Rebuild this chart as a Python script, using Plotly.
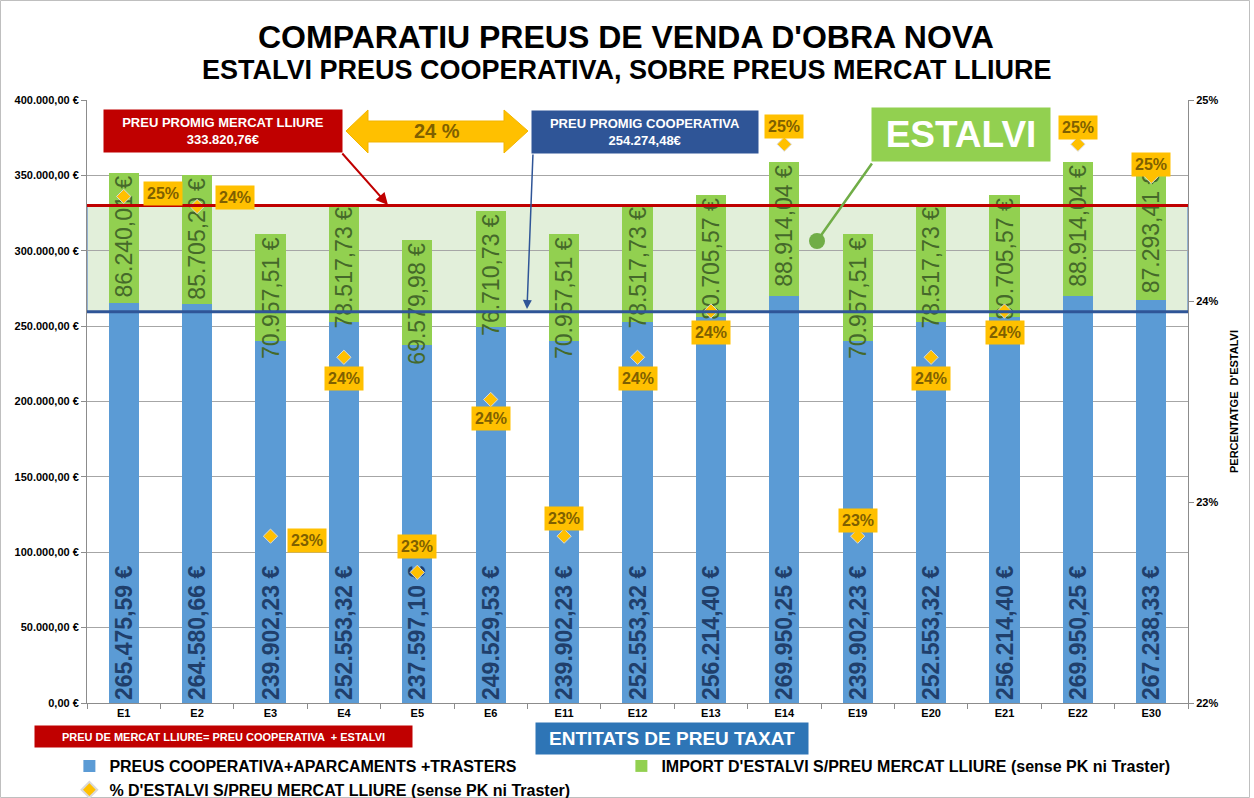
import plotly.graph_objects as go

# ---------------- data ----------------
categories = ["E1", "E2", "E3", "E4", "E5", "E6", "E11", "E12", "E13", "E14",
              "E19", "E20", "E21", "E22", "E30"]
coop_price = [265475.59, 264580.66, 239902.23, 252553.32, 237597.10, 249529.53,
              239902.23, 252553.32, 256214.40, 269950.25, 239902.23, 252553.32,
              256214.40, 269950.25, 267238.33]
saving_amount = [86240.01, 85705.20, 70957.51, 78517.73, 69579.98, 76710.73,
                 70957.51, 78517.73, 80705.57, 88914.04, 70957.51, 78517.73,
                 80705.57, 88914.04, 87293.41]
saving_pct = [24.52, 24.47, 22.83, 23.72, 22.65, 23.51, 22.83, 23.72, 23.95,
              24.78, 22.83, 23.72, 23.95, 24.78, 24.62]
pct_labels = ["25%", "24%", "23%", "24%", "23%", "24%", "23%", "24%", "24%",
              "25%", "23%", "24%", "24%", "25%", "25%"]
y_ticks = [0, 50000, 100000, 150000, 200000, 250000, 300000, 350000, 400000]
y_ticktext = ["0,00 €", "50.000,00 €", "100.000,00 €", "150.000,00 €", "200.000,00 €",
              "250.000,00 €", "300.000,00 €", "350.000,00 €", "400.000,00 €"]
y2_ticks = [22, 23, 24, 25]
y2_ticktext = ["22%", "23%", "24%", "25%"]
market_avg_text = "333.820,76€"
coop_avg_text = "254.274,48€"
avg_saving_text = "24 %"
band_top = 330000      # red line as drawn
band_bottom = 259500   # blue line as drawn

# label placement (style): pixel offsets of the % labels from their markers
pct_label_offset = [(39, 3), (38, 9), (36, -4), (0, -21), (0, 26), (0, -19), (0, 18),
                    (0, -21), (0, -21), (0, 18), (0, 16), (0, -21), (0, -21), (0, 17), (0, 12)]

# ---------------- layout helpers ----------------
W, H = 1254, 798
ML, MR, MT, MB = 87, 66, 100, 95
PW, PH = W - ML - MR, H - MT - MB


def px(x):
    return (x - ML) / PW


def py(y):
    return (H - MB - y) / PH


FONT = "Liberation Sans, Arial, sans-serif"

fig = go.Figure()
fig.add_trace(go.Bar(
    x=categories, y=coop_price, name="PREUS COOPERATIVA+APARCAMENTS +TRASTERS",
    marker=dict(color="#5B9BD5", line=dict(width=0)),
    texttemplate="%{y:,.2f} €", textposition="inside", insidetextanchor="start",
    textangle=-90, constraintext="none",
    textfont=dict(family=FONT, size=23, color="#203F6B", weight="bold"),
    width=0.41,
))
fig.add_trace(go.Bar(
    x=categories, y=saving_amount, name="IMPORT D'ESTALVI S/PREU MERCAT LLIURE (sense PK ni Traster)",
    marker=dict(color="#92D050", line=dict(width=0)),
    texttemplate="%{y:,.2f} €", textposition="inside", insidetextanchor="end",
    textangle=-90, constraintext="none",
    textfont=dict(family=FONT, size=23, color="#45692A"),
    width=0.41,
))
fig.add_trace(go.Scatter(
    x=categories, y=saving_pct, yaxis="y2", mode="markers",
    name="% D'ESTALVI S/PREU MERCAT LLIURE (sense PK ni Traster)",
    marker=dict(symbol="diamond", size=11, color="#FFC000",
                line=dict(color="#D9D9D9", width=1)),
))

annotations = []
# % labels
for c, p, t, (dx, dy) in zip(categories, saving_pct, pct_labels, pct_label_offset):
    annotations.append(dict(
        x=c, y=p, xref="x", yref="y2", text=t, showarrow=False,
        xanchor="center", yanchor="middle",
        xshift=dx, yshift=dy, bgcolor="#FFC000", borderpad=3,
        font=dict(family=FONT, size=16, color="#7F6000", weight="bold"),
    ))


def box(xc, yc, text, size, color="white", bg=None, w=None, h=None, bold=True):
    d = dict(x=px(xc), y=py(yc), xref="paper", yref="paper", showarrow=False,
             xanchor="center", yanchor="middle", text=text, borderpad=0,
             font=dict(family=FONT, size=size, color=color,
                       weight="bold" if bold else "normal"))
    if bg:
        d["bgcolor"] = bg
    if w:
        d["width"] = w
    if h:
        d["height"] = h
    return d


# titles
annotations.append(box(626, 37, "COMPARATIU PREUS DE VENDA D'OBRA NOVA", 32, "black"))
annotations.append(box(627, 70, "ESTALVI PREUS COOPERATIVA, SOBRE PREUS MERCAT LLIURE", 27, "black"))
# callout boxes
annotations.append(box(223, 131, "PREU PROMIG MERCAT LLIURE<br>" + market_avg_text, 13,
                       bg="#C00000", w=238, h=42))
annotations.append(box(645, 132, "PREU PROMIG COOPERATIVA<br>" + coop_avg_text, 13,
                       bg="#2F5597", w=226, h=42))
annotations.append(box(961, 135, "ESTALVI", 37, bg="#92D050", w=178, h=53))
annotations.append(box(437, 131, avg_saving_text, 20, "#7F6000"))
annotations.append(box(223, 736, "PREU DE MERCAT LLIURE= PREU COOPERATIVA  + ESTALVI", 11,
                       bg="#C00000", w=377, h=21))
annotations.append(box(672, 738, "ENTITATS DE PREU TAXAT", 19, bg="#2E75B6", w=272, h=31))

# connectors
annotations.append(dict(
    x=px(388), y=py(205), xref="paper", yref="paper", text="", showarrow=True,
    ax=341 - 388, ay=152 - 205, arrowhead=2, arrowsize=1.2, arrowwidth=2,
    arrowcolor="#C00000", standoff=0,
))
annotations.append(dict(
    x=px(527), y=py(309), xref="paper", yref="paper", text="", showarrow=True,
    ax=533 - 527, ay=153 - 309, arrowhead=2, arrowsize=1.2, arrowwidth=1.5,
    arrowcolor="#2F5597", standoff=0,
))
annotations.append(dict(
    x=px(817), y=py(241), xref="paper", yref="paper", text="", showarrow=True,
    ax=873 - 817, ay=162 - 241, arrowhead=6, arrowsize=1.6, arrowwidth=2.5,
    arrowcolor="#70AD47", standoff=0,
))

# yellow double arrow path (pixel -> paper)
pts = [(346, 131), (368, 110), (368, 121), (504, 121), (504, 110), (528, 131),
       (504, 153), (504, 142), (368, 142), (368, 153)]
path = "M " + " L ".join(f"{px(a):.5f},{py(b):.5f}" for a, b in pts) + " Z"

shapes = [
    dict(type="rect", xref="paper", yref="y", x0=0, x1=1, y0=band_bottom, y1=band_top,
         fillcolor="#E2EFDA", line=dict(color="#4472C4", width=1), layer="below"),
    dict(type="line", xref="paper", yref="y", x0=0, x1=1, y0=band_top, y1=band_top,
         line=dict(color="#C00000", width=3)),
    dict(type="line", xref="paper", yref="y", x0=0, x1=1, y0=band_bottom, y1=band_bottom,
         line=dict(color="#2F5597", width=3)),
    dict(type="path", xref="paper", yref="paper", path=path,
         fillcolor="#FFC000", line=dict(color="#F2B400", width=1)),
    dict(type="rect", xref="paper", yref="paper", x0=px(0.5), x1=px(1249.5),
         y0=py(797.5), y1=py(0.5), line=dict(color="#BFBFBF", width=1)),
]

fig.update_layout(
    width=W, height=H,
    margin=dict(l=ML, r=MR, t=MT, b=MB, autoexpand=False),
    paper_bgcolor="white", plot_bgcolor="white",
    separators=",.",
    barmode="stack", bargap=0.59,
    font=dict(family=FONT, color="black"),
    showlegend=True,
    legend=dict(orientation="h", x=-0.016, y=py(749), xanchor="left", yanchor="top",
                entrywidth=507, entrywidthmode="pixels", traceorder="normal",
                font=dict(family=FONT, size=16, color="black", weight="bold"),
                bgcolor="rgba(0,0,0,0)", tracegroupgap=0, itemsizing="constant"),
    xaxis=dict(type="category", range=[-0.5, 14.5], showgrid=False,
               showline=True, linecolor="#8C8C8C", linewidth=1,
               ticks="outside", tickson="boundaries", ticklen=5, tickcolor="#8C8C8C",
               tickfont=dict(family=FONT, size=11, color="black", weight="bold")),
    yaxis=dict(range=[0, 400000], tickmode="array", tickvals=y_ticks, ticktext=y_ticktext,
               showgrid=True, gridcolor="#A6A6A6", gridwidth=1,
               showline=True, linecolor="#8C8C8C", ticks="outside", ticklen=5,
               tickcolor="#8C8C8C", zeroline=False,
               tickfont=dict(family=FONT, size=11, color="black", weight="bold")),
    yaxis2=dict(range=[22, 25], tickmode="array", tickvals=y2_ticks, ticktext=y2_ticktext,
                overlaying="y", side="right", showgrid=False, showline=True,
                linecolor="#8C8C8C", ticks="outside", ticklen=5, tickcolor="#8C8C8C",
                zeroline=False,
                tickfont=dict(family=FONT, size=11, color="black", weight="bold"),
                title=dict(text="PERCENTATGE  D'ESTALVI", standoff=12,
                           font=dict(family=FONT, size=11, color="black", weight="bold"))),
    annotations=annotations,
    shapes=shapes,
)

fig.write_html("out.html", config={"displayModeBar": False},
               post_script="document.body.style.margin='0';")
